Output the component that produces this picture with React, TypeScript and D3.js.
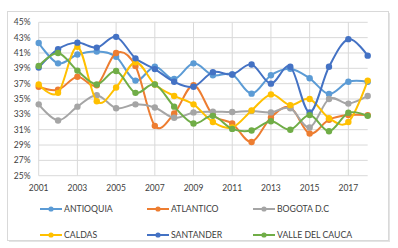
import React from "react";
import * as d3 from "d3";

const years = [2001, 2002, 2003, 2004, 2005, 2006, 2007, 2008, 2009, 2010, 2011, 2012, 2013, 2014, 2015, 2016, 2017, 2018];
const xTicks = [2001, 2003, 2005, 2007, 2009, 2011, 2013, 2015, 2017];
const yTicks = [25, 27, 29, 31, 33, 35, 37, 39, 41, 43, 45];

const antioquia = [42.3, 39.65, 40.8, 41.2, 40.5, 37.4, 39.2, 37.6, 39.65, 38.1, 38.2, 35.7, 38.1, 38.95, 37.7, 35.65, 37.25, 37.25];
const atlantico = [36.6, 36.2, 37.9, 36.8, 41.0, 39.3, 31.5, 33.1, 36.8, 32.9, 31.8, 29.4, 32.6, 33.9, 30.5, 32.3, 32.9, 32.9];
const bogota = [34.3, 32.2, 34.0, 35.5, 33.8, 34.3, 33.9, 32.55, 33.25, 33.35, 33.3, 33.45, 33.25, 33.8, 31.3, 35.0, 34.4, 35.4];
const caldas = [36.9, 35.8, 41.8, 34.7, 36.5, 39.8, 36.9, 35.4, 34.3, 32.0, 31.3, 33.5, 35.6, 34.2, 35.0, 32.5, 32.0, 37.4];
const santander = [39.1, 41.5, 42.35, 41.7, 43.1, 40.3, 38.9, 37.25, 36.6, 38.5, 38.2, 39.5, 37.0, 39.2, 33.25, 39.2, 42.8, 40.65];
const valle = [39.3, 41.0, 38.7, 36.9, 38.65, 35.8, 36.9, 34.0, 31.8, 32.8, 31.1, 30.9, 32.1, 31.0, 32.9, 30.8, 33.2, 32.8];

const seriesNames = ["ANTIOQUIA", "ATLANTICO", "BOGOTA D.C", "CALDAS", "SANTANDER", "VALLE DEL CAUCA"];
const seriesValues = [antioquia, atlantico, bogota, caldas, santander, valle];
const seriesColors = ["#5B9BD5", "#ED7D31", "#A5A5A5", "#FFC000", "#4472C4", "#70AD47"];

const FONT = "Lato, 'Open Sans', sans-serif";

export default function App() {
  const W = 398, H = 248;
  const x = d3.scaleLinear().domain([2001, 2018]).range([38.7, 367.7]);
  const y = d3.scaleLinear().domain([25, 45]).range([175.7, 22.3]);
  const line = d3
    .line<number>()
    .x((_, i) => x(years[i]))
    .y((d) => y(d))
    .curve(d3.curveCatmullRom.alpha(0));

  const legendCols = [40, 147, 253];
  const legendRows = [209, 235];

  return (
    <svg width={W} height={H} style={{ position: "absolute", left: 0, top: 0 }}>
      <rect x={0} y={0} width={W} height={H} fill="#fff" />
      <rect x={9} y={13} width={381} height={229} fill="#e4e4e4" />
      <rect x={7.5} y={11.5} width={381} height={229} fill="#fff" stroke="#d9d9d9" strokeWidth={1} />
      {yTicks.map((t) => (
        <line key={"h" + t} x1={x(2001)} x2={x(2018)} y1={y(t)} y2={y(t)} stroke="#d9d9d9" strokeWidth={1} />
      ))}
      {xTicks.map((t) => (
        <line key={"v" + t} x1={x(t)} x2={x(t)} y1={y(45)} y2={y(25)} stroke="#d9d9d9" strokeWidth={1} />
      ))}
      {yTicks.map((t) => (
        <text key={"yl" + t} x={30.5} y={y(t)} dy="0.35em" textAnchor="end" fontSize={8.5} fontFamily={FONT} fill="#404040">
          {t + "%"}
        </text>
      ))}
      {xTicks.map((t) => (
        <text key={"xl" + t} x={x(t)} y={188.5} dy="0.35em" textAnchor="middle" fontSize={8.5} fontFamily={FONT} fill="#404040">
          {t}
        </text>
      ))}
      {seriesValues.map((vals, si) => (
        <g key={"s" + si}>
          <path d={line(vals) || ""} fill="none" stroke={seriesColors[si]} strokeWidth={2} />
          {vals.map((v, i) => (
            <circle key={i} cx={x(years[i])} cy={y(v)} r={3.2} fill={seriesColors[si]} />
          ))}
        </g>
      ))}
      {seriesNames.map((name, i) => {
        const cx = legendCols[i % 3];
        const cy = legendRows[Math.floor(i / 3)];
        return (
          <g key={"lg" + i}>
            <line x1={cx} x2={cx + 22} y1={cy} y2={cy} stroke={seriesColors[i]} strokeWidth={2} />
            <circle cx={cx + 11} cy={cy} r={2.6} fill={seriesColors[i]} />
            <text x={cx + 24} y={cy} dy="0.35em" fontSize={8.7} fontFamily={FONT} fill="#404040">
              {name}
            </text>
          </g>
        );
      })}
    </svg>
  );
}
